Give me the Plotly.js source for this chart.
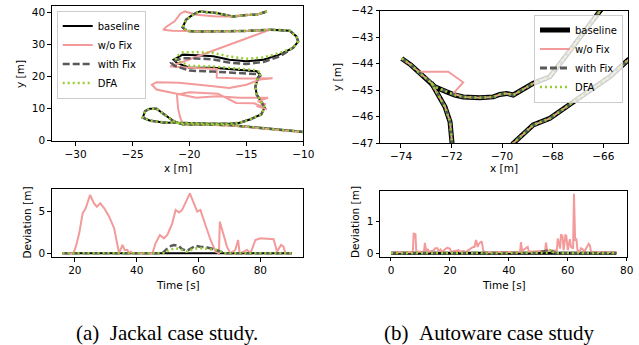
<!DOCTYPE html>
<html><head><meta charset="utf-8">
<script src="https://cdn.plot.ly/plotly-3.0.1.min.js"></script>
<style>html,body{margin:0;padding:0;background:#fff}#chart{width:639px;height:345px}</style>
</head><body><div id="chart"></div>
<script>
// ---------- series names ----------
const seriesNames = ['baseline', 'w/o Fix', 'with Fix', 'DFA'];

// ---------- (a) Jackal trajectory [m] ----------
const jackBaseX = [-13.2,-14.1,-15.0,-16.2,-17.6,-19.1,-19.7,-20.3,-20.6,-20.2,-19.4,-17.9,-15.0,-12.9,-11.2,-10.6,-10.45,-10.9,-12.1,-13.5,-15.0,-16.5,-17.9,-19.4,-20.6,-21.1,-21.4,-21.1,-20.0,-17.9,-15.6,-14.1,-13.8,-14.0,-14.2,-14.1,-13.7,-13.4,-13.7,-14.7,-15.6,-16.5,-18.0,-20.0,-22.3,-23.5,-24.1,-23.9,-23.5,-22.9,-22.5,-22.0,-21.4,-20.6,-18.5,-16.5,-15.6,-12.9,-10.0,-9.0];
const jackBaseY = [40.3,39.3,39.2,38.7,39.8,40.3,39.3,37.7,35.3,34.2,34.0,34.0,34.2,34.6,34.3,32.5,30.9,28.9,26.8,25.2,24.7,25.2,26.3,26.6,26.8,25.8,25.2,24.2,22.7,22.7,22.1,21.6,20.6,19.5,16.9,14.3,12.2,10.2,8.1,6.5,5.5,5.2,5.2,5.3,5.6,6.2,7.1,9.1,9.9,9.9,8.9,7.6,6.0,5.0,4.9,4.8,4.5,3.6,2.6,2.3];

const jackNoFixX = [-13.2,-14.1,-15.0,-16.2,-17.6,-19.4,-20.4,-20.8,-21.3,-22.0,-22.3,-21.5,-20.2,-19.4,-17.9,-15.0,-12.9,-15.0,-17.5,-19.5,-21.7,-19.5,-17.6,-17.6,-15.5,-12.7,-13.8,-15.0,-16.5,-17.9,-19.4,-20.9,-22.9,-23.3,-22.9,-21.4,-19.4,-17.6,-15.6,-13.1,-14.0,-13.3,-14.1,-13.2,-14.3,-15.9,-17.5,-20.0,-21.1,-21.0,-20.8,-20.6,-18.5,-16.5,-15.6,-12.9,-10.0,-9.0];
const jackNoFixY = [40.3,39.3,39.2,38.7,38.7,39.3,40.3,39.6,37.2,35.6,34.6,34.3,34.2,34.0,34.0,34.2,34.6,31.8,28.5,25.9,23.1,22.6,22.3,19.6,19.3,19.4,19.0,17.4,16.4,16.9,17.4,18.0,18.2,17.4,15.9,14.8,13.3,13.8,13.3,13.3,12.2,11.3,10.7,9.7,11.6,11.7,14.6,15.0,14.3,10.0,7.0,5.3,4.9,4.7,4.4,3.5,2.5,2.2];

const jackFixX = [-13.2,-14.1,-15.0,-16.2,-17.6,-19.1,-19.7,-20.3,-20.6,-20.2,-19.4,-17.9,-15.0,-12.9,-11.2,-10.6,-10.45,-10.9,-12.1,-13.5,-15.0,-16.5,-17.9,-19.4,-20.6,-21.3,-21.6,-21.3,-20.0,-17.9,-15.6,-14.1,-13.8,-14.0,-14.2,-14.1,-13.7,-13.4,-13.7,-14.7,-15.6,-16.5,-18.0,-20.0,-22.3,-23.5,-24.1,-23.9,-23.5,-22.9,-22.5,-22.0,-21.4,-20.6,-18.5,-16.5,-15.6,-12.9,-10.0,-9.0];
const jackFixY = [40.3,39.3,39.2,38.7,39.8,40.3,39.3,37.7,35.3,34.2,34.0,34.0,34.2,34.6,34.3,32.5,30.9,28.9,26.2,24.5,23.9,24.3,25.3,25.6,25.7,24.9,24.2,23.3,21.8,21.5,21.0,20.7,20.1,19.5,16.9,14.3,12.2,10.2,8.1,6.5,5.5,5.2,5.2,5.3,5.6,6.2,7.1,9.1,9.9,9.9,8.9,7.6,6.0,5.0,4.9,4.8,4.5,3.6,2.6,2.3];

const jackDfaX = [-13.2,-14.1,-15.0,-16.2,-17.6,-19.1,-19.7,-20.3,-20.6,-20.2,-19.4,-17.9,-15.0,-12.9,-11.2,-10.6,-10.45,-10.9,-12.1,-13.5,-15.0,-16.5,-17.9,-19.4,-20.6,-21.0,-21.2,-21.0,-20.0,-17.9,-15.6,-14.1,-13.7,-14.0,-14.2,-14.1,-13.7,-13.4,-13.7,-14.7,-15.6,-16.5,-18.0,-20.0,-22.3,-23.5,-24.1,-23.9,-23.5,-22.9,-22.5,-22.0,-21.4,-20.6,-18.5,-16.5,-15.6,-12.9,-10.0,-9.0];
const jackDfaY = [40.3,39.3,39.2,38.7,39.8,40.3,39.3,37.7,35.3,34.2,34.0,34.0,34.2,34.6,34.3,32.5,30.9,28.9,27.3,25.9,25.5,26.2,27.3,27.6,27.5,26.5,25.6,24.7,23.3,23.1,22.4,21.9,21.0,19.5,16.9,14.3,12.2,10.2,8.1,6.5,5.5,5.2,5.2,5.3,5.6,6.2,7.1,9.1,9.9,9.9,8.9,7.6,6.0,5.0,4.9,4.8,4.5,3.6,2.6,2.3];

// ---------- (b) Autoware trajectory [m] (null = separate passes) ----------
const autoBaseX = [-73.97,-73.6,-73.25,-72.92,-72.66,-72.19,-71.87,-71.54,-70.88,-70.35,-70.09,-69.82,-69.56,-68.77,-68.11,-67.45,-66.13,-65.8,null,-72.8,-72.53,-72.26,-72.06,-71.96,-71.93,null,-69.9,-69.56,-68.77,-68.11,-66.79,-65.74,-65.02,-64.7];
const autoBaseY = [-43.8,-44.05,-44.36,-44.62,-44.87,-45.06,-45.18,-45.25,-45.28,-45.25,-45.16,-45.12,-45.18,-44.74,-44.49,-43.67,-41.97,-41.6,null,-44.72,-45.18,-45.62,-46.19,-46.94,-47.5,null,-47.5,-47.0,-46.31,-46.06,-45.18,-44.49,-43.86,-43.65];
const autoNoFixX = [-73.97,-73.6,-73.3,-72.13,-71.54,-71.93,-71.54,-70.88,-70.35,-70.09,-69.82,-69.56,-68.77,-68.11,-67.45,-66.13,-65.8,null,-73.25,-72.92,-72.8,-72.53,-72.26,-72.06,-71.96,-71.93,null,-69.9,-69.56,-68.77,-68.11,-66.79,-65.74,-65.02,-64.7];
const autoNoFixY = [-43.8,-44.05,-44.3,-44.3,-44.7,-45.12,-45.25,-45.28,-45.25,-45.16,-45.12,-45.18,-44.74,-44.49,-43.67,-41.97,-41.6,null,-44.36,-44.62,-44.72,-45.18,-45.62,-46.19,-46.94,-47.5,null,-47.5,-47.0,-46.31,-46.06,-45.18,-44.49,-43.86,-43.65];
const autoFixX = autoBaseX, autoFixY = autoBaseY;
const autoDfaX = autoBaseX, autoDfaY = autoBaseY;

// ---------- (a) Jackal deviation vs time ----------
const jackTimeBase = [16, 90.2];
const jackDevBase = [0, 0];
const jackTimeNoFix = [16,19.5,20.3,21.4,22.5,23.5,24.9,26.2,27.1,28.2,29.5,31.1,32.7,33.8,34.3,35.4,36.1,37.0,37.5,38.1,38.7,45.1,46.1,47.5,48.8,49.9,51.5,52.6,53.7,54.7,55.8,57.2,58.5,59.6,60.6,62.3,63.9,65.5,66.6,66.9,68.0,69.2,70.3,71.9,72.8,73.3,74.6,75.7,76.8,78.4,80.0,84.3,85.4,86.7,87.5,88.1,90.2];
const jackDevNoFix = [0,0,0.8,2.4,4.8,5.4,7.0,6.0,5.6,6.0,5.4,4.4,3.0,0.8,0,1.0,0.4,0.4,0,0.2,0,0,1.2,2.2,1.8,2.2,3.6,5.2,4.9,5.2,6.0,7.2,6.0,5.0,5.2,3.2,1.6,0.2,0,3.8,2.4,0.8,0,0.4,1.6,0,0.2,0.4,0,1.6,1.8,1.7,0.2,1.0,0.8,0,0];
const jackTimeFix = [16,48.3,50.5,52.0,53.5,54.7,56.3,57.5,59.0,60.6,62.8,64.9,67.1,68.6,90.2];
const jackDevFix = [0,0,0.8,1.0,0.9,0.5,0.3,0.6,0.9,0.8,0.7,0.5,0.2,0,0];
const jackTimeDfa = [16,49.0,50.5,52.5,54.0,56.0,57.5,59.5,61.5,63.5,66.0,68.2,90.2];
const jackDevDfa = [0,0,0.4,0.6,0.5,0.2,0.4,0.6,0.6,0.5,0.4,0,0];

// ---------- (b) Autoware deviation vs time ----------
const autoTimeBase = [0, 76.5];
const autoDevBase = [0, 0];
const autoTimeNoFix = [0,7.4,7.7,8.3,8.6,11.2,11.5,11.9,12.5,12.9,14.6,15.0,15.8,16.2,16.8,17.2,18.7,19.0,20.0,20.4,23.0,23.4,24.7,25.1,27.9,28.3,28.9,29.4,29.8,30.4,30.8,31.3,31.6,43.8,44.1,44.5,46.4,46.8,52.3,52.6,53.0,56.3,56.6,57.4,57.7,58.2,58.6,59.2,59.5,60.0,60.7,61.1,61.8,62.1,62.5,62.9,63.3,64.0,64.5,65.1,65.6,67.1,67.5,67.9,76.5];
const autoDevNoFix = [0.03,0.03,0.62,0.6,0.05,0.05,0.33,0.1,0.12,0.05,0.1,0.16,0.16,0.05,0.12,0.04,0.15,0.17,0.15,0.05,0.1,0.05,0.08,0.03,0.2,0.2,0.42,0.2,0.3,0.35,0.38,0.1,0.03,0.05,0.35,0.08,0.2,0.05,0.08,0.34,0.08,0.1,0.47,0.15,0.6,0.55,0.1,0.57,0.55,0.1,0.45,0.2,0.15,1.88,0.4,0.47,0.1,0.05,0.16,0.12,0.05,0.3,0.25,0.04,0.03];
const autoTimeFix = [0,49.5,51,53,55,56,76.5];
const autoDevFix = [0.01,0.01,0.05,0.08,0.06,0.01,0.01];
const autoTimeDfa = [0,29,30,31,53.5,54.3,54.8,55.5,76.5];
const autoDevDfa = [0.01,0.01,0.04,0.01,0.02,0.13,0.05,0.01,0.01];

// ---------- styles ----------
const C_BASE = '#000000', C_NOFIX = '#f39a9a', C_FIX = '#595959', C_DFA = '#9acd32';
const FONT = 'DejaVu Sans';

function tr(x, y, xa, ya, idx, opts) {
  const styles = [
    {color: C_BASE, width: opts.bw, dash: 'solid'},
    {color: C_NOFIX, width: 2, dash: 'solid'},
    {color: C_FIX, width: opts.fw, dash: '7px,3px'},
    {color: C_DFA, width: 2.5, dash: '2px,3px'}
  ];
  return {
    type: 'scatter', mode: 'lines', x: x, y: y, xaxis: xa, yaxis: ya,
    name: seriesNames[idx], line: styles[idx], connectgaps: false,
    showlegend: !!opts.leg, legend: opts.leg || 'legend', hoverinfo: 'skip'
  };
}

const data = [
  tr(jackBaseX, jackBaseY, 'x', 'y', 0, {bw: 2, fw: 2.5, leg: 'legend'}),
  tr(jackNoFixX, jackNoFixY, 'x', 'y', 1, {bw: 2, fw: 2.5, leg: 'legend'}),
  tr(jackFixX, jackFixY, 'x', 'y', 2, {bw: 2, fw: 2.5, leg: 'legend'}),
  tr(jackDfaX, jackDfaY, 'x', 'y', 3, {bw: 2, fw: 2.5, leg: 'legend'}),

  tr(autoBaseX, autoBaseY, 'x2', 'y2', 0, {bw: 5, fw: 3, leg: 'legend2'}),
  tr(autoNoFixX, autoNoFixY, 'x2', 'y2', 1, {bw: 5, fw: 3, leg: 'legend2'}),
  tr(autoFixX, autoFixY, 'x2', 'y2', 2, {bw: 5, fw: 3, leg: 'legend2'}),
  tr(autoDfaX, autoDfaY, 'x2', 'y2', 3, {bw: 5, fw: 3, leg: 'legend2'}),

  tr(jackTimeBase, jackDevBase, 'x3', 'y3', 0, {bw: 2, fw: 2.5}),
  tr(jackTimeNoFix, jackDevNoFix, 'x3', 'y3', 1, {bw: 2, fw: 2.5}),
  tr(jackTimeFix, jackDevFix, 'x3', 'y3', 2, {bw: 2, fw: 2.5}),
  tr(jackTimeDfa, jackDevDfa, 'x3', 'y3', 3, {bw: 2, fw: 2.5}),

  tr(autoTimeBase, autoDevBase, 'x4', 'y4', 0, {bw: 3, fw: 2.5}),
  tr(autoTimeNoFix, autoDevNoFix, 'x4', 'y4', 1, {bw: 3, fw: 2.5}),
  tr(autoTimeFix, autoDevFix, 'x4', 'y4', 2, {bw: 3, fw: 2.5}),
  tr(autoTimeDfa, autoDevDfa, 'x4', 'y4', 3, {bw: 3, fw: 2.5})
];

const W = 639, H = 345;
const px = v => v / W, py = v => 1 - v / H;

function axis(extra) {
  return Object.assign({
    showline: true, mirror: true, linecolor: 'black', linewidth: 1,
    ticks: 'outside', ticklen: 3.5, tickwidth: 1, tickcolor: 'black',
    showgrid: false, zeroline: false, automargin: false, fixedrange: true,
    tickfont: {family: FONT, size: 10.5, color: 'black'}
  }, extra);
}

const legendStyle = {
  bgcolor: 'rgba(255,255,255,0.8)', bordercolor: '#cccccc', borderwidth: 1,
  font: {family: FONT, size: 10, color: 'black'}, tracegroupgap: 0,
  yanchor: 'top'
};

function ann(text, x, y, extra) {
  return Object.assign({
    text: text, x: px(x), y: py(y), xref: 'paper', yref: 'paper',
    showarrow: false, xanchor: 'center', yanchor: 'middle',
    font: {family: FONT, size: 10.5, color: 'black'}
  }, extra || {});
}

const layout = {
  width: W, height: H,
  margin: {l: 0, r: 0, t: 0, b: 0},
  paper_bgcolor: 'white', plot_bgcolor: 'white',
  xaxis: axis({domain: [px(51.7), px(303.3)], range: [-32.1, -10], tickvals: [-30, -25, -20, -15, -10], anchor: 'y'}),
  yaxis: axis({domain: [py(141), py(6)], range: [-0.2, 42.0], tickvals: [0, 10, 20, 30, 40], anchor: 'x'}),
  xaxis2: axis({domain: [px(380), px(628)], range: [-74.83, -65.02], tickvals: [-74, -72, -70, -68, -66], anchor: 'y2'}),
  yaxis2: axis({domain: [py(143.3), py(10.7)], range: [-47, -42], tickvals: [-47, -46, -45, -44, -43, -42], anchor: 'x2'}),
  xaxis3: axis({domain: [px(51.7), px(303.3)], range: [12.5, 93.9], tickvals: [20, 40, 60, 80], anchor: 'y3'}),
  yaxis3: axis({domain: [py(257.3), py(189)], range: [-0.48, 7.72], tickvals: [0, 5], anchor: 'x3'}),
  xaxis4: axis({domain: [px(380), px(627.3)], range: [-3.73, 80.2], tickvals: [0, 20, 40, 60, 80], anchor: 'y4'}),
  yaxis4: axis({domain: [py(256.7), py(190.7)], range: [-0.107, 1.98], tickvals: [0, 1], anchor: 'x4'}),
  legend: Object.assign({x: px(56.7), y: py(10.5), xanchor: 'left'}, legendStyle),
  legend2: Object.assign({x: px(623), y: py(14.5), xanchor: 'right'}, legendStyle),
  annotations: [
    ann('x [m]', 177.5, 168),
    ann('x [m]', 504, 168),
    ann('y [m]', 20, 74, {textangle: -90}),
    ann('y [m]', 337, 77, {textangle: -90}),
    ann('Deviation [m]', 26.5, 223, {textangle: -90}),
    ann('Deviation [m]', 355, 222, {textangle: -90}),
    ann('Time [s]', 177.5, 285),
    ann('Time [s]', 503.5, 285),
    ann('(a)\u00a0\u00a0Jackal case study.', 166.7, 333, {font: {family: 'Liberation Serif', size: 21, color: 'black'}}),
    ann('(b)\u00a0\u00a0Autoware case study', 488.5, 333, {font: {family: 'Liberation Serif', size: 21, color: 'black'}})
  ]
};

Plotly.newPlot('chart', data, layout, {staticPlot: true, displayModeBar: false});
</script>
</body></html>
